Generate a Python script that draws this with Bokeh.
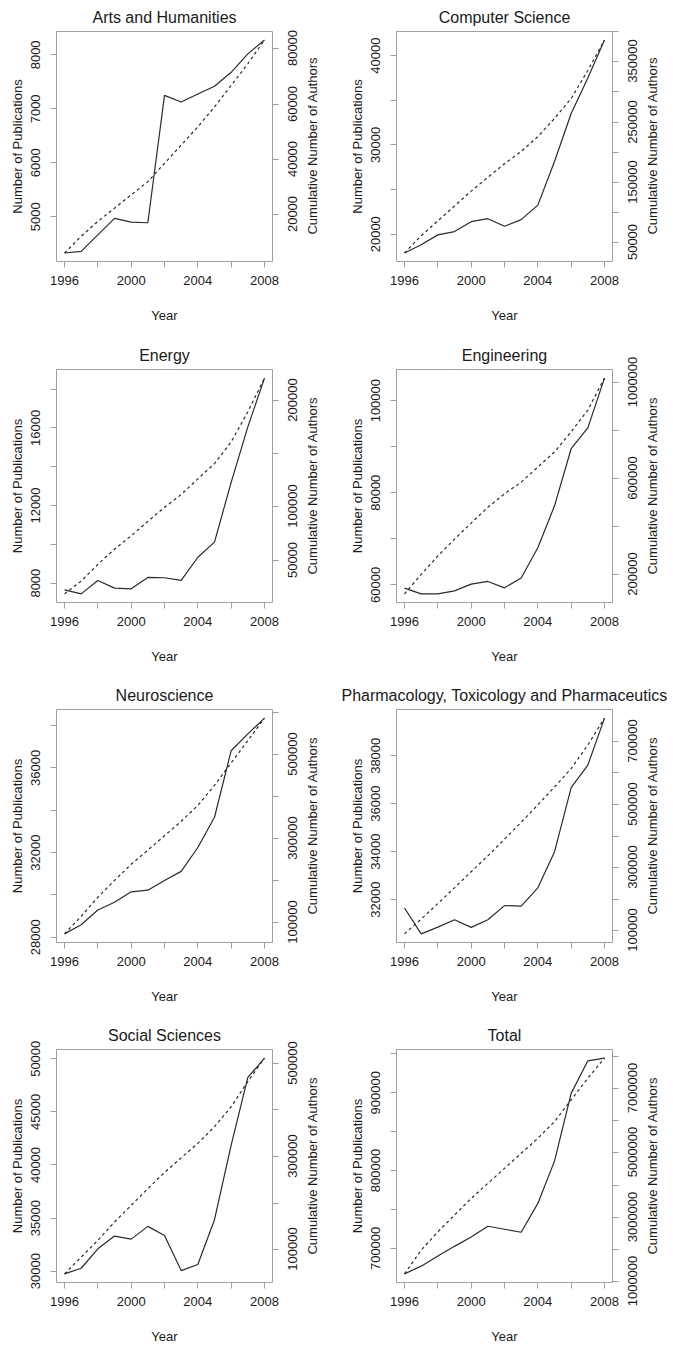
import math
from bokeh.plotting import figure
from bokeh.core.properties import value
from bokeh.models import (Range1d, FixedTicker, LinearAxis, ColumnDataSource,
                          HTMLLabelSet)
from bokeh.layouts import column, row
from bokeh.embed import file_html
from bokeh.resources import INLINE

years = [1996, 1997, 1998, 1999, 2000, 2001, 2002, 2003, 2004, 2005, 2006, 2007, 2008]
x_ticks = [1996, 1998, 2000, 2002, 2004, 2006, 2008]
x_labeled = [1996, 2000, 2004, 2008]

titles = ["Arts and Humanities", "Computer Science", "Energy", "Engineering",
          "Neuroscience", "Pharmacology, Toxicology and Pharmaceutics",
          "Social Sciences", "Total"]
right_title = "Cumulative Number of Authors"

pubs_arts = [4330, 4360, 4665, 4970, 4902, 4890, 7250, 7128, 7274, 7420, 7677, 8018, 8275]
auth_arts = [6200, 12200, 17600, 22400, 27200, 32000, 38600, 45200, 51800, 59000, 66800, 74600, 83200]

pubs_cs = [17900, 18815, 19926, 20296, 21407, 21741, 20889, 21630, 23259, 28148, 33519, 37481, 41741]
auth_cs = [32400, 61000, 85700, 110400, 135200, 158200, 180800, 201100, 225800, 256000, 289000, 335700, 386300]

pubs_energy = [7654, 7446, 8139, 7740, 7706, 8294, 8277, 8139, 9333, 10113, 13195, 16052, 18563]
auth_energy = [18550, 30500, 46200, 60400, 73000, 86500, 99700, 111600, 126400, 140600, 161000, 189300, 220800]

pubs_eng = [59270, 58030, 58030, 58690, 60150, 60730, 59340, 61460, 68030, 77150, 89560, 94090, 104890]
auth_eng = [118900, 200000, 276900, 346900, 414000, 479700, 535700, 584600, 647600, 710500, 794400, 885300, 1018200]

pubs_neuro = [28159, 28587, 29286, 29651, 30143, 30222, 30683, 31111, 32238, 33667, 36810, 37603, 38349]
auth_neuro = [72000, 113600, 159200, 199200, 237600, 271200, 305600, 340000, 377600, 425600, 479200, 532000, 585600]

pubs_pharma = [31650, 30570, 30850, 31160, 30840, 31160, 31750, 31730, 32490, 33990, 36670, 37610, 39570]
auth_pharma = [90400, 137200, 186200, 236200, 287200, 337200, 390400, 443600, 498900, 555300, 613800, 688300, 773400]

pubs_social = [29750, 30280, 32110, 33310, 33020, 34220, 33370, 30060, 30630, 34850, 41870, 48240, 50060]
auth_social = [48400, 84200, 120100, 159500, 195300, 231200, 265600, 297100, 328000, 363800, 406800, 460600, 510800]

pubs_total = [667240, 677160, 690090, 702590, 714660, 728450, 724570, 720690, 757760, 812070, 899140, 940950, 944400]
auth_total = [1250000, 1984000, 2554000, 3073000, 3591000, 4057000, 4523000, 4990000, 5456000, 5974000, 6648000, 7321000, 7943000]

# left axis ticks / labeled ticks
left_ticks = [
    [5000, 6000, 7000, 8000],
    [20000, 25000, 30000, 35000, 40000],
    [8000, 10000, 12000, 14000, 16000, 18000],
    [60000, 70000, 80000, 90000, 100000],
    [28000, 30000, 32000, 34000, 36000, 38000],
    [32000, 34000, 36000, 38000],
    [30000, 35000, 40000, 45000, 50000],
    [700000, 750000, 800000, 850000, 900000, 950000],
]
left_labeled = [
    [5000, 6000, 7000, 8000],
    [20000, 30000, 40000],
    [8000, 12000, 16000],
    [60000, 80000, 100000],
    [28000, 32000, 36000],
    [32000, 34000, 36000, 38000],
    [30000, 35000, 40000, 45000, 50000],
    [700000, 800000, 900000],
]
right_ticks = [
    [20000, 40000, 60000, 80000],
    [50000, 100000, 150000, 200000, 250000, 300000, 350000, 400000],
    [50000, 100000, 150000, 200000],
    [200000, 400000, 600000, 800000, 1000000],
    [100000, 200000, 300000, 400000, 500000, 600000],
    [100000, 200000, 300000, 400000, 500000, 600000, 700000],
    [100000, 200000, 300000, 400000, 500000],
    [1000000, 2000000, 3000000, 4000000, 5000000, 6000000, 7000000, 8000000],
]
right_labeled = [
    [20000, 40000, 60000, 80000],
    [50000, 150000, 250000, 350000],
    [50000, 100000, 200000],
    [200000, 600000, 1000000],
    [100000, 300000, 500000],
    [100000, 300000, 500000, 700000],
    [100000, 300000, 500000],
    [1000000, 3000000, 5000000, 7000000],
]

pubs_all = [pubs_arts, pubs_cs, pubs_energy, pubs_eng, pubs_neuro, pubs_pharma, pubs_social, pubs_total]
auth_all = [auth_arts, auth_cs, auth_energy, auth_eng, auth_neuro, auth_pharma, auth_social, auth_total]

FONT = "Liberation Sans"
TEXT = "#1a1a1a"
GRAY = "#a0a0a0"
LINE = "#2a2a2a"
FRAME_W = 216
FRAME_H = 233


def rrange(vals):
    lo, hi = min(vals), max(vals)
    r = hi - lo
    return lo - 0.04 * r, hi + 0.04 * r


def overrides(ticks, labeled):
    return {t: (str(t) if t in labeled else "") for t in ticks}


def style_axis(ax):
    ax.axis_line_color = None
    ax.major_tick_line_color = GRAY
    ax.major_tick_out = 6
    ax.major_tick_in = 0
    ax.minor_tick_line_color = None
    ax.major_label_text_font = FONT
    ax.major_label_text_font_size = "13px"
    ax.major_label_text_color = TEXT
    ax.axis_label_text_font = FONT
    ax.axis_label_text_font_size = "13px"
    ax.axis_label_text_font_style = "normal"
    ax.axis_label_text_color = TEXT


def make(i):
    col = i % 2
    rowi = i // 2
    h = [330, 340, 340, 336][rowi]
    top = [28, 39, 39, 39][rowi]
    bottom = h - top - FRAME_H
    left = 56 if col == 0 else 60
    right = 336 - left - FRAME_W

    xlo, xhi = rrange(years)
    ylo, yhi = rrange(pubs_all[i])
    alo, ahi = rrange(auth_all[i])

    p = figure(width=336, height=h, output_backend="svg", toolbar_location=None,
               x_range=Range1d(xlo, xhi), y_range=Range1d(ylo, yhi),
               min_border_left=left, min_border_right=right,
               min_border_top=top, min_border_bottom=bottom,
               title=titles[i], background_fill_color="white",
               border_fill_color="white", outline_line_color=GRAY,
               outline_line_width=1)
    p.extra_y_ranges = {"auth": Range1d(alo, ahi)}
    p.xgrid.visible = False
    p.ygrid.visible = False
    p.title.align = "center"
    p.title.text_font = FONT
    p.title.text_font_size = "16px"
    p.title.text_font_style = "normal"
    p.title.text_color = TEXT
    p.title.standoff = 12

    xa = p.xaxis[0]
    style_axis(xa)
    xa.ticker = FixedTicker(ticks=x_ticks)
    xa.major_label_overrides = overrides(x_ticks, x_labeled)
    xa.axis_label = "Year"
    xa.major_label_standoff = 8
    xa.axis_label_standoff = 20

    ya = p.yaxis[0]
    style_axis(ya)
    ya.ticker = FixedTicker(ticks=left_ticks[i])
    ya.major_label_overrides = overrides(left_ticks[i], left_labeled[i])
    ya.major_label_orientation = "parallel"
    ya.axis_label = "Number of Publications"
    ya.major_label_standoff = 10
    ya.axis_label_standoff = 4

    # right axis: tick marks from the axis, labels as rotated HTML labels
    ra = LinearAxis(y_range_name="auth")
    style_axis(ra)
    ra.ticker = FixedTicker(ticks=right_ticks[i])
    ra.major_label_overrides = {t: "" for t in right_ticks[i]}
    ra.major_label_text_font_size = "0px"
    ra.major_label_standoff = 0
    p.add_layout(ra, "right")

    rl = right_labeled[i]
    src = ColumnDataSource(dict(x=[xhi] * len(rl), y=rl, t=[str(v) for v in rl]))
    p.add_layout(HTMLLabelSet(x="x", y="y", text="t", source=src, y_range_name="auth",
                              angle=math.pi / 2, x_offset=13, text_align="center",
                              text_baseline="top", text_font=value(FONT),
                              text_font_size=value("13px"), text_color=TEXT))
    tsrc = ColumnDataSource(dict(x=[xhi], y=[(alo + ahi) / 2], t=[right_title]))
    p.add_layout(HTMLLabelSet(x="x", y="y", text="t", source=tsrc, y_range_name="auth",
                              angle=math.pi / 2, x_offset=33, text_align="center",
                              text_baseline="top", text_font=value(FONT),
                              text_font_size=value("13px"), text_color=TEXT))

    p.line(years, pubs_all[i], line_color=LINE, line_width=1.2)
    p.line(years, auth_all[i], y_range_name="auth", line_color=LINE,
           line_width=1.2, line_dash="3 3")
    return p


figs = [make(i) for i in range(8)]
layout = column(*[row(figs[2 * k], figs[2 * k + 1]) for k in range(4)])

open("out.html", "w").write(file_html(layout, INLINE))
